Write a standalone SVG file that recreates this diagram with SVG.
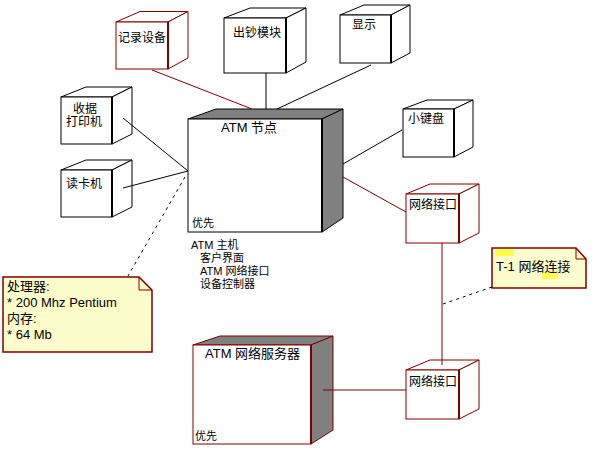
<svg xmlns="http://www.w3.org/2000/svg" width="594" height="456" viewBox="0 0 594 456">
  <style>
    .lbl { font-family: "Liberation Sans", "Noto Sans CJK SC", sans-serif; font-size: 12px; fill: #000; }
    .big { font-size: 13px; }
    .sm { font-size: 11px; }
    .face { fill: #fff; stroke: #000; stroke-width: 1; }
    .face-r { fill: #fff; stroke: #800000; stroke-width: 1; }
    .shade { fill: #808080; stroke: #000; stroke-width: 1; }
    .shade-r { fill: #808080; stroke: #800000; stroke-width: 1; }
    .edge { stroke: #000; stroke-width: 2; }
    .edge-r { stroke: #800000; stroke-width: 2; }
    .conn { stroke: #000; stroke-width: 1; fill: none; }
    .conn-r { stroke: #800000; stroke-width: 1; fill: none; }
    .dash { stroke: #000; stroke-width: 1; fill: none; stroke-dasharray: 3 4; }
    .note { fill: #fdfdcc; stroke: #800000; stroke-width: 1.5; }
    .hl { fill: #ffff50; }
  </style>

  <rect width="594" height="456" fill="#fff"/>

  <!-- 记录设备 -->
  <g id="node-recorder">
    <polygon class="face-r" points="116,22 140,11.5 188,11.5 168,22"/>
    <polygon class="face-r" points="168,22 188,11.5 188,58 168,69"/>
    <rect class="face-r" x="116" y="22" width="52" height="47"/>
    <line class="edge-r" x1="168" y1="22" x2="168" y2="69"/>
    <text class="lbl" x="118" y="42">记录设备</text>
  </g>

  <!-- 出钞模块 -->
  <g id="node-dispenser">
    <polygon class="face" points="224,18 250,8 306,8 286,18"/>
    <polygon class="face" points="286,18 306,8 306,62 286,73"/>
    <rect class="face" x="224" y="18" width="62" height="55"/>
    <line class="edge" x1="286" y1="18" x2="286" y2="73"/>
    <text class="lbl" x="233" y="37">出钞模块</text>
  </g>

  <!-- 显示 -->
  <g id="node-display">
    <polygon class="face" points="340,15 364,5 410,5 391,15"/>
    <polygon class="face" points="391,15 410,5 410,53 391,63"/>
    <rect class="face" x="340" y="15" width="51" height="48"/>
    <line class="edge" x1="391" y1="15" x2="391" y2="63"/>
    <text class="lbl" x="352" y="29">显示</text>
  </g>

  <!-- 收据打印机 -->
  <g id="node-printer">
    <polygon class="face" points="61,97 86,87 132,87 112,97"/>
    <polygon class="face" points="112,97 132,87 132,134 112,144"/>
    <rect class="face" x="61" y="97" width="51" height="47"/>
    <line class="edge" x1="112" y1="97" x2="112" y2="144"/>
    <text class="lbl" x="73" y="113">收据</text>
    <text class="lbl" x="66" y="126">打印机</text>
  </g>

  <!-- 读卡机 -->
  <g id="node-cardreader">
    <polygon class="face" points="61,170 86,160 132,160 112,170"/>
    <polygon class="face" points="112,170 132,160 132,207 112,217"/>
    <rect class="face" x="61" y="170" width="51" height="47"/>
    <line class="edge" x1="112" y1="170" x2="112" y2="217"/>
    <text class="lbl" x="66" y="188">读卡机</text>
  </g>

  <!-- ATM 节点 -->
  <g id="node-atm">
    <polygon class="shade" points="188,119 216,109 343,109 322,119"/>
    <polygon class="shade" points="322,119 343,109 343,218 322,232"/>
    <rect class="face" x="188" y="119" width="134" height="113"/>
    <line class="edge" x1="322" y1="119" x2="322" y2="232"/>
    <text class="lbl big" x="221" y="132">ATM 节点</text>
    <text class="lbl sm" x="192" y="227">优先</text>
    <text class="lbl sm" x="191" y="249">ATM 主机</text>
    <text class="lbl sm" x="200" y="262">客户界面</text>
    <text class="lbl sm" x="200" y="275">ATM 网络接口</text>
    <text class="lbl sm" x="200" y="288">设备控制器</text>
  </g>

  <!-- 小键盘 -->
  <g id="node-keypad">
    <polygon class="face" points="403,109 427,100 473,100 454,109"/>
    <polygon class="face" points="454,109 473,100 473,147 454,157"/>
    <rect class="face" x="403" y="109" width="51" height="48"/>
    <line class="edge" x1="454" y1="109" x2="454" y2="157"/>
    <text class="lbl" x="408" y="123">小键盘</text>
  </g>

  <!-- 网络接口 (ATM 侧) -->
  <g id="node-netif-atm">
    <polygon class="face-r" points="406,194 430,184 479,184 459,194"/>
    <polygon class="face-r" points="459,194 479,184 479,233 459,243"/>
    <rect class="face-r" x="406" y="194" width="53" height="49"/>
    <line class="edge-r" x1="459" y1="194" x2="459" y2="243"/>
    <text class="lbl" x="409" y="209">网络接口</text>
  </g>

  <!-- 网络接口 (服务器侧) -->
  <g id="node-netif-server">
    <polygon class="face-r" points="406,370 430,360 479,360 459,370"/>
    <polygon class="face-r" points="459,370 479,360 479,409 459,419"/>
    <rect class="face-r" x="406" y="370" width="53" height="49"/>
    <line class="edge-r" x1="459" y1="370" x2="459" y2="419"/>
    <text class="lbl" x="409" y="386">网络接口</text>
  </g>

  <!-- ATM 网络服务器 -->
  <g id="node-server">
    <polygon class="shade-r" points="193,345 220,336 333,336 311,345"/>
    <polygon class="shade-r" points="311,345 333,336 333,430 311,444"/>
    <rect class="face-r" x="193" y="345" width="118" height="99"/>
    <line class="edge-r" x1="311" y1="345" x2="311" y2="444"/>
    <text class="lbl big" x="205" y="358">ATM 网络服务器</text>
    <text class="lbl sm" x="195" y="440">优先</text>
  </g>

  <!-- 处理器说明 -->
  <g id="note-cpu">
    <polygon class="note" points="3,277 139,277 152,290 152,352 3,352"/>
    <polyline class="conn-r" points="139,277 139,290 152,290"/>
    <text class="lbl big" x="7" y="291">处理器:</text>
    <text class="lbl big" x="7" y="307">* 200 Mhz Pentium</text>
    <text class="lbl big" x="7" y="323">内存:</text>
    <text class="lbl big" x="7" y="339">* 64 Mb</text>
  </g>

  <!-- T-1 说明 -->
  <g id="note-t1">
    <polygon class="note" points="492,248 576,248 586,259 586,288 492,288"/>
    <polyline class="conn-r" points="576,248 576,259 586,259"/>
    <rect class="hl" x="496" y="249" width="18" height="7"/>
    <rect class="hl" x="542" y="272" width="16" height="7"/>
    <text class="lbl big" x="496" y="271">T-1 网络连接</text>
  </g>

  <!-- 连接 -->
  <g id="connectors">
    <line class="conn-r" x1="152" y1="70" x2="252" y2="109"/>
    <line class="conn" x1="266" y1="73" x2="266" y2="109"/>
    <line class="conn" x1="371" y1="65" x2="277" y2="109"/>
    <line class="conn" x1="123" y1="118" x2="188" y2="171"/>
    <line class="conn" x1="123" y1="188" x2="188" y2="171"/>
    <line class="dash" x1="185" y1="177" x2="128" y2="276"/>
    <line class="conn" x1="402" y1="130" x2="343" y2="164"/>
    <line class="conn-r" x1="343" y1="177" x2="406" y2="212"/>
    <line class="conn-r" x1="442" y1="243" x2="442" y2="365"/>
    <line class="conn-r" x1="323" y1="390" x2="406" y2="390"/>
    <line class="dash" x1="492" y1="287" x2="443" y2="304"/>
  </g>
</svg>
